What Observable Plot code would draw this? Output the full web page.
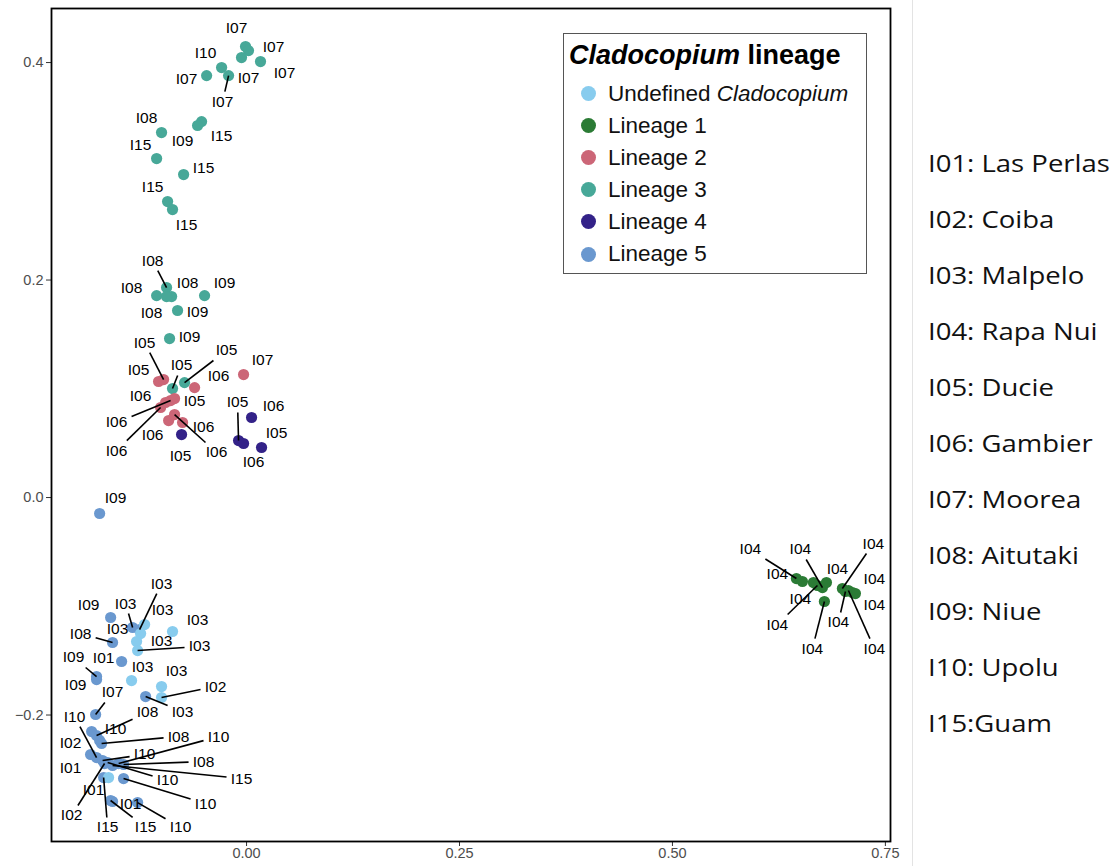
<!DOCTYPE html>
<html>
<head>
<meta charset="utf-8">
<script src="https://cdn.jsdelivr.net/npm/d3@7"></script>
<script src="https://cdn.jsdelivr.net/npm/@observablehq/plot@0.6"></script>
<style>
  body { margin: 0; background: #fff; }
  #wrap { position: relative; width: 1117px; height: 866px; overflow: hidden; font-family: "Liberation Sans", Arial, sans-serif; background: #fff; }
  #wrap svg { display: block; position: absolute; left: 0; top: 0; }
  #legend { position: absolute; left: 563px; top: 33px; width: 304px; height: 241px; box-sizing: border-box; border: 1px solid #555; background: #fff; }
  #legend .title { position: absolute; left: 5px; top: 5px; height: 32px; line-height: 32px; font-size: 27px; font-weight: bold; white-space: nowrap; color: #000; }
  #legend .row { position: absolute; left: 0; height: 32px; line-height: 32px; font-size: 22.5px; white-space: nowrap; color: #111; }
  #legend .dot { position: absolute; left: 17px; top: 8.5px; width: 15px; height: 15px; border-radius: 50%; }
  #legend .lab { position: absolute; left: 44px; top: 0; }
  #sep { position: absolute; left: 912px; top: 0; width: 1px; height: 866px; background: #e3e3e3; }
  #sites { position: absolute; left: 928px; top: 0; font-family: "Open Sans", sans-serif; }
  #sites div { position: absolute; left: 0; height: 40px; line-height: 40px; font-size: 23.5px; white-space: nowrap; color: #111; transform: scaleX(1.17); transform-origin: 0 50%; }
</style>
</head>
<body>
<div id="wrap"></div>
<script>
// ---------- data ----------
const lineageCodes  = ["U", "L1", "L2", "L3", "L4", "L5"];
const lineageNames  = ["Undefined <i>Cladocopium</i>", "Lineage 1", "Lineage 2", "Lineage 3", "Lineage 4", "Lineage 5"];
const lineageColors = ["#88CCEE", "#2b7b35", "#CC6677", "#47A898", "#332288", "#6A98CF"];

const siteCodes = ["I01", "I02", "I03", "I04", "I05", "I06", "I07", "I08", "I09", "I10", "I15"];
const siteNames = ["I01: Las Perlas", "I02: Coiba", "I03: Malpelo", "I04: Rapa Nui", "I05: Ducie", "I06: Gambier",
                   "I07: Moorea", "I08: Aitutaki", "I09: Niue", "I10: Upolu", "I15:Guam"];

const xTicks = [0, 0.25, 0.5, 0.75];
const yTicks = [-0.2, 0, 0.2, 0.4];

const pointLineage = [
  "L3","L3","L3","L3","L3","L3","L3","L3","L3","L3","L3","L3","L3","L3",
  "L3","L3","L3","L3","L3","L3","L3","L3","L3",
  "L2","L2","L2","L2","L2","L2","L2","L2","L2","L2","L2",
  "L4","L4","L4","L4","L4",
  "L5",
  "L1","L1","L1","L1","L1","L1","L1","L1","L1","L1","L1","L1",
  "L5","L5","L5","U","U","U","U","U","L5","L5","L5","L5","U","U","U","L5",
  "L5","L5","L5","L5","L5","L5","L5","L5","L5","L5","L5","L5","L5","L5","U","L5","L5","L5","L5"
];
const pointSite = [
  "I07","I07","I07","I07","I10","I07","I07","I15","I09","I08","I15","I15","I15","I15",
  "I08","I08","I08","I09","I08","I09","I09","I05","I05",
  "I05","I05","I06","I07","I06","I05","I06","I06","I06","I06","I06",
  "I05","I06","I05","I06","I05",
  "I09",
  "I04","I04","I04","I04","I04","I04","I04","I04","I04","I04","I04","I04",
  "I09","I03","I03","I03","I03","I03","I03","I03","I08","I01","I09","I09","I03","I03","I02","I03",
  "I07","I02","I08","I10","I08","I01","I10","I10","I02","I10","I15","I10","I08","I15","I01","I10","I15","I10","I01"
];
const pointX = [
  -0.0012, 0.0023, -0.0059, 0.0164, -0.0293, -0.0211, -0.0469, -0.0528, -0.0575, -0.0998, -0.1056, -0.0739, -0.0927, -0.0869,
  -0.0939, -0.1056, -0.0880, -0.0493, -0.0939, -0.0810, -0.0904, -0.0869, -0.0728,
  -0.1033, -0.0974, -0.0610, -0.0035, -0.0951, -0.0845, -0.0892, -0.1009, -0.0915, -0.0845, -0.0751,
  -0.0763, 0.0059, -0.0094, -0.0035, 0.0176,
  -0.1725,
  0.6455, 0.6526, 0.6655, 0.6702, 0.6761, 0.6808, 0.6784, 0.6995, 0.7031, 0.7066, 0.7113, 0.7148,
  -0.1596, -0.1338, -0.1256, -0.1197, -0.0869, -0.1244, -0.1291, -0.1279, -0.1573, -0.1467, -0.1761, -0.1761, -0.1350, -0.0998, -0.0998, -0.1185,
  -0.1772, -0.1819, -0.1761, -0.1725, -0.1702, -0.1831, -0.1761, -0.1690, -0.1667, -0.1631, -0.1573, -0.1502, -0.1444, -0.1678, -0.1620, -0.1444, -0.1596, -0.1279, -0.1573
];
const pointY = [
  0.4147, 0.4110, 0.4046, 0.4009, 0.3954, 0.3880, 0.3880, 0.3457, 0.3421, 0.3356, 0.3117, 0.2970, 0.2722, 0.2648,
  0.1931, 0.1857, 0.1848, 0.1857, 0.1848, 0.1720, 0.1462, 0.1002, 0.1057,
  0.1067, 0.1085, 0.1011, 0.1131, 0.0874, 0.0910, 0.0892, 0.0828, 0.0708, 0.0763, 0.0690,
  0.0579, 0.0736, 0.0524, 0.0497, 0.0460,
  -0.0147,
  -0.0745, -0.0772, -0.0782, -0.0809, -0.0828, -0.0782, -0.0956, -0.0837, -0.0864, -0.0855, -0.0874, -0.0883,
  -0.1103, -0.1195, -0.1214, -0.1168, -0.1232, -0.1251, -0.1324, -0.1407, -0.1333, -0.1508, -0.1646, -0.1674, -0.1683, -0.1738, -0.1839, -0.1830,
  -0.1995, -0.2152, -0.2189, -0.2234, -0.2262, -0.2363, -0.2391, -0.2418, -0.2446, -0.2437, -0.2464, -0.2446, -0.2455, -0.2575, -0.2575, -0.2584, -0.2786, -0.2805, -0.2795
];
// repelled label anchors (data units)
const labelX = [
  -0.0117, 0.0317, 0.0023, 0.0446, -0.0481, -0.0282, -0.0704, -0.0293, -0.0751, -0.1174, -0.1244, -0.0505, -0.1103, -0.0704,
  -0.1103, -0.1350, -0.0692, -0.0258, -0.1115, -0.0575, -0.0669, -0.0763, -0.0235,
  -0.1268, -0.1197, -0.0329, 0.0188, -0.1244, -0.0610, -0.1526, -0.1526, -0.1103, -0.0352, -0.0505,
  -0.0775, 0.0317, -0.0106, 0.0082, 0.0352,
  -0.1538,
  0.5915, 0.6232, 0.6502, 0.6232, 0.6502, 0.6937, 0.6643, 0.7359, 0.6948, 0.7371, 0.7371, 0.7371,
  -0.1854, -0.1420, -0.0998, -0.0986, -0.0575, -0.1514, -0.0998, -0.0552, -0.1948, -0.1678, -0.2031, -0.2007, -0.1221, -0.0822, -0.0364, -0.0751,
  -0.1573, -0.2066, -0.1162, -0.1538, -0.0798, -0.2066, -0.2019, -0.1197, -0.2054, -0.0927, -0.0059, -0.0329, -0.0505, -0.1631, -0.1796, -0.0481, -0.1185, -0.0775, -0.1362
];
const labelY = [
  0.4313, 0.4147, 0.3862, 0.3908, 0.4083, 0.3641, 0.3844, 0.3320, 0.3274, 0.3494, 0.3237, 0.3034, 0.2851, 0.2510,
  0.2179, 0.1931, 0.1977, 0.1977, 0.1701, 0.1710, 0.1480, 0.1214, 0.1352,
  0.1177, 0.1425, 0.1113, 0.1269, 0.0929, 0.0883, 0.0690, 0.0432, 0.0579, 0.0414, 0.0644,
  0.0386, 0.0837, 0.0874, 0.0322, 0.0589,
  -0.0009,
  -0.0478, -0.0699, -0.0929, -0.1168, -0.0478, -0.0653, -0.1389, -0.0423, -0.1149, -0.1389, -0.0993, -0.0745,
  -0.0984, -0.0975, -0.0791, -0.1039, -0.1131, -0.1205, -0.1324, -0.1370, -0.1251, -0.1480, -0.1471, -0.1720, -0.1563, -0.1600, -0.1738, -0.1968,
  -0.1793, -0.2253, -0.1977, -0.2133, -0.2198, -0.2483, -0.2014, -0.2363, -0.2924, -0.2602, -0.2584, -0.2198, -0.2428, -0.3034, -0.2694, -0.2814, -0.3034, -0.3034, -0.2814
];

// ---------- layout ----------
const W = 900, H = 866;
const mL = 51, mR = 10, mT = 8, mB = 25;
const xDomain = [-0.229, 0.756];
const yDomain = [-0.3163, 0.4497];

const points = pointX.map((x, i) => ({
  x, y: pointY[i], lx: labelX[i], ly: labelY[i], lineage: pointLineage[i], site: pointSite[i]
}));

// ggrepel-like leader segments: from the point to the label box edge, only if long enough
const xs = Plot.scale({x: {domain: xDomain, range: [mL, W - mR]}});
const ys = Plot.scale({y: {domain: yDomain, range: [H - mB, mT]}});
const HW = 15, HH = 10, MINSEG = 12;
const segs = [];
for (const p of points) {
  const px = xs.apply(p.x), py = ys.apply(p.y);
  const lx = xs.apply(p.lx), ly = ys.apply(p.ly);
  const dx = lx - px, dy = ly - py;
  const dist = Math.hypot(dx, dy);
  const t = Math.min(dx === 0 ? Infinity : HW / Math.abs(dx), dy === 0 ? Infinity : HH / Math.abs(dy));
  if (t < 1 && dist * (1 - t) > MINSEG) {
    segs.push({x1: p.x, y1: p.y, x2: xs.invert(lx - dx * t), y2: ys.invert(ly - dy * t)});
  }
}

const fmtX = d3.format(".2f");
const fmtY = d3.format(".1f");

const chart = Plot.plot({
  width: W, height: H,
  marginLeft: mL, marginRight: mR, marginTop: mT, marginBottom: mB,
  style: {fontFamily: "'Liberation Sans', Arial, sans-serif", background: "transparent", color: "#333"},
  x: {domain: xDomain},
  y: {domain: yDomain},
  color: {domain: lineageCodes, range: lineageColors},
  marks: [
    Plot.axisX({ticks: xTicks, tickSize: 5, tickFormat: () => "", label: null, stroke: "#333"}),
    Plot.axisY({ticks: yTicks, tickSize: 5, tickFormat: () => "", label: null, stroke: "#333"}),
    Plot.text(xTicks, {x: d => d, frameAnchor: "bottom", dy: 16, text: d => fmtX(d), fontSize: 14.5, fill: "#4d4d4d"}),
    Plot.text(yTicks, {y: d => d, frameAnchor: "left", dx: -8, textAnchor: "end", text: d => fmtY(d), fontSize: 14.5, fill: "#4d4d4d"}),
    Plot.dot(points, {x: "x", y: "y", r: 5.6, fill: "lineage", stroke: null}),
    Plot.link(segs, {x1: "x1", y1: "y1", x2: "x2", y2: "y2", stroke: "#000", strokeWidth: 1.6}),
    Plot.text(points, {x: "lx", y: "ly", text: "site", fontSize: 15.5, fill: "#000"}),
    Plot.frame({stroke: "#000", strokeWidth: 1.8})
  ]
});

const wrap = document.getElementById("wrap");
wrap.appendChild(chart);

// legend
const legend = document.createElement("div");
legend.id = "legend";
let html = `<div class="title"><i>Cladocopium</i> lineage</div>`;
lineageCodes.forEach((c, i) => {
  const top = 43.5 + 32.1 * i;
  html += `<div class="row" style="top:${top}px;width:100%"><span class="dot" style="background:${lineageColors[i]}"></span><span class="lab">${lineageNames[i]}</span></div>`;
});
legend.innerHTML = html;
wrap.appendChild(legend);

// separator + site list
const sep = document.createElement("div");
sep.id = "sep";
wrap.appendChild(sep);
const sites = document.createElement("div");
sites.id = "sites";
sites.innerHTML = siteNames.map((s, i) => `<div style="top:${163 + 56 * i - 20}px">${s}</div>`).join("");
wrap.appendChild(sites);
</script>
</body>
</html>
